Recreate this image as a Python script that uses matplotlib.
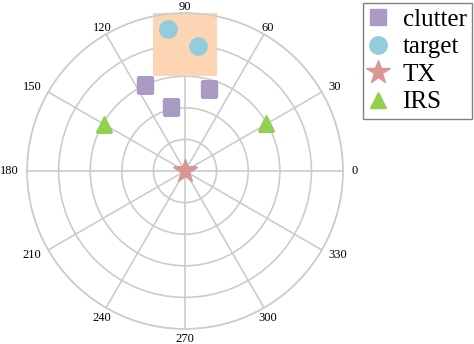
import numpy as np
import matplotlib
matplotlib.use('Agg')
import matplotlib.pyplot as plt
from matplotlib.patches import Rectangle
from matplotlib.transforms import offset_copy

# marker positions (angle in degrees, radius)
clutter_deg = [115, 102, 74]
clutter_r = [3.0, 2.07, 2.7]
target_deg = [97, 84]
target_r = [4.54, 3.99]
tx_deg = [0]
tx_r = [0]
irs_deg = [150, 31]
irs_r = [2.95, 2.98]

# target region (cartesian, same units as radius)
region_x = (-1.0, 1.0)
region_y = (3.0, 5.0)

angle_ticks = list(range(0, 360, 30))
angle_labels = [str(a) for a in angle_ticks]

plt.rcParams['font.family'] = ['Liberation Serif', 'DejaVu Serif']

fig = plt.figure(figsize=(4.74, 3.44), dpi=100)
ax = fig.add_axes([0.057, 0.0436, 0.6667, 0.9186], projection='polar')
ax.set_rlim(0, 5)
ax.set_rticks([1, 2, 3, 4, 5])
ax.set_yticklabels([])
ax.set_thetagrids(angle_ticks)
ax.set_xticklabels([])
ax.grid(color='#cccccc', linewidth=1.2)
ax.spines['polar'].set_color('#cccccc')
ax.spines['polar'].set_linewidth(1.2)

# angle labels placed just outside the circle, anchored by direction
for a, lab in zip(angle_ticks, angle_labels):
    c, s = np.cos(np.radians(a)), np.sin(np.radians(a))
    ha = 'left' if c > 0.6 else ('right' if c < -0.6 else 'center')
    if s > 0.6:
        va, dy = 'baseline', 3
    elif s < -0.6:
        va, dy = 'top', -4
    else:
        va, dy = 'center', s * 10
    tr = offset_copy(ax.transData, fig=fig, x=c * 8, y=dy, units='dots')
    ax.text(np.radians(a), 5, lab, transform=tr, ha=ha, va=va, fontsize=9,
            clip_on=False)

# shaded region drawn in cartesian coordinates on top of the grid
cart = ax.transProjectionAffine + ax.transWedge + ax.transAxes
ax.add_patch(Rectangle((region_x[0], region_y[0]), region_x[1] - region_x[0],
                       region_y[1] - region_y[0], transform=cart,
                       facecolor='#fcd5b5', edgecolor='none', zorder=2.5,
                       clip_on=False))

ax.plot(np.radians(clutter_deg), clutter_r, 's', color='#a99bc4', ms=12,
        linestyle='none', label='clutter', zorder=3)
ax.plot(np.radians(target_deg), target_r, 'o', color='#93cddd', ms=12.5,
        linestyle='none', label='target', zorder=3)
ax.plot(np.radians(tx_deg), tx_r, '*', color='#d99694', ms=17.5,
        linestyle='none', label='TX', zorder=3)
ax.plot(np.radians(irs_deg), irs_r, '^', color='#92d050', ms=12,
        linestyle='none', label='IRS', zorder=3)

leg = fig.legend(loc='upper right', bbox_to_anchor=(472 / 474, 341 / 344),
                 borderaxespad=0, fontsize=18, fancybox=False,
                 edgecolor='#808080', framealpha=1, handletextpad=0.63,
                 borderpad=0.22, labelspacing=0.2, handlelength=0.74)
leg.get_frame().set_linewidth(1.0)

fig.savefig('out.png', dpi=100)
